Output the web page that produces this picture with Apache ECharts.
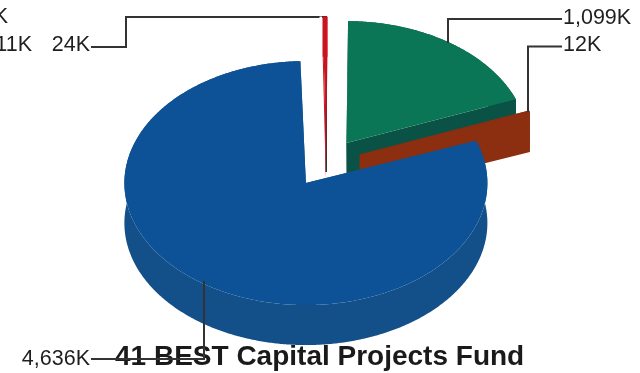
<!DOCTYPE html>
<html>
<head>
<meta charset="utf-8">
<style>html,body{margin:0;padding:0;background:#fff}#chart{width:640px;height:373px}</style>
<script src="https://cdn.jsdelivr.net/npm/echarts@6/dist/echarts.min.js"></script>
</head>
<body>
<div id="chart"></div>
<script>
// Fund balances in thousands, clockwise from twelve o'clock.
var sliceNames = ['Green', 'Brown', 'Blue', 'Small A', 'Small B', 'Red'];
var sliceValues = [1099, 12, 4636, 1, 11, 24];
var chartTitle = '41 BEST Capital Projects Fund';

// Colours: top surface and side wall, same order as the values.
var topColors = ['#0b7656', '#8c2e10', '#0d5296', '#ffffff', '#ffffff', '#cc1420'];
var wallColors = ['#0a5246', '#8c2e10', '#135089', '#ffffff', '#ffffff', '#cc1420'];
// Back slices are painted first so the large front slice overlaps them.
var paintOrder = [3, 4, 5, 0, 1, 2];

// Projection of the tilted pie.
var pie = { cx: 326, cy: 163, rx: 181.5, ry: 122, depth: 40, explode: 36, startDeg: 89.5 };

// Leader routes and their label anchors, keyed by slice index.
var leaders = [
  { slice: 0, route: [[562, 19], [448, 19], [448, 43]], at: [563, 18], align: 'left', z: 20 },
  { slice: 1, route: [[562, 46.5], [528, 46.5], [528, 112]], at: [563, 45.5], align: 'left', z: 20 },
  { slice: 2, route: [[91, 359], [204, 359], [204, 281]], at: [90, 359], align: 'right', z: 20 },
  { slice: 5, route: [[91, 47], [126, 47], [126, 17], [326, 17], [326, 172]], at: [90, 45.5], align: 'right', z: 1 },
  { slice: 4, route: [], at: [32, 45.5], align: 'right', z: 20 },
  { slice: 3, route: [], at: [8, 17.5], align: 'right', z: 20 }
];

var total = sliceValues.reduce(function (a, b) { return a + b; }, 0);

function sliceAngles(index) {
  var before = 0;
  for (var i = 0; i < index; i++) before += sliceValues[i];
  var sweep = sliceValues[index] / total * 360;
  var start = pie.startDeg - before / total * 360;
  return { start: start, end: start - sweep, mid: start - sweep / 2 };
}

function project(ox, oy, deg) {
  var a = deg * Math.PI / 180;
  return [ox + pie.rx * Math.cos(a), oy - pie.ry * Math.sin(a)];
}

function renderSlice(params, api) {
  var index = params.dataIndex;
  var ang = sliceAngles(index);
  var mid = ang.mid * Math.PI / 180;
  var ox = pie.cx + pie.explode * Math.cos(mid);
  var oy = pie.cy - pie.explode * (pie.ry / pie.rx) * Math.sin(mid);
  var arc = [];
  var steps = Math.max(2, Math.ceil((ang.start - ang.end) * 2));
  for (var s = 0; s <= steps; s++) {
    arc.push(project(ox, oy, ang.start + (ang.end - ang.start) * s / steps));
  }
  var apex = [ox, oy];
  var drop = function (p) { return [p[0], p[1] + pie.depth]; };
  var order = paintOrder.indexOf(index);
  var wallStyle = { fill: wallColors[index] };
  var children = [];
  // Side wall: the outer rim plus both cut faces.
  children.push({
    type: 'polygon', z2: order * 10,
    shape: { points: arc.concat(arc.slice().reverse().map(drop)) }, style: wallStyle
  });
  [arc[0], arc[arc.length - 1]].forEach(function (edge) {
    children.push({
      type: 'polygon', z2: order * 10 + 1,
      shape: { points: [apex, edge, drop(edge), drop(apex)] }, style: wallStyle
    });
  });
  // Top surface.
  children.push({
    type: 'polygon', z2: order * 10 + 2,
    shape: { points: [apex].concat(arc) },
    style: { fill: topColors[index] }
  });
  return { type: 'group', children: children };
}

function labelText(value) {
  return value.toLocaleString('en-US') + 'K';
}

var overlay = [];
leaders.forEach(function (l) {
  if (l.route.length) {
    overlay.push({
      type: 'polyline', z: l.z, shape: { points: l.route },
      style: { stroke: '#333', lineWidth: 2, fill: null }
    });
  }
  overlay.push({
    type: 'text', z: 21, x: l.at[0], y: l.at[1],
    style: {
      text: labelText(sliceValues[l.slice]), fill: '#1f1f1f',
      font: '21.5px "Liberation Sans", Arial, sans-serif',
      align: l.align, verticalAlign: 'middle'
    }
  });
});

var chart = echarts.init(document.getElementById('chart'), null, { renderer: 'canvas' });
chart.setOption({
  animation: false,
  backgroundColor: '#fff',
  title: {
    text: chartTitle, left: 115, top: 343, padding: 0,
    textStyle: { fontFamily: '"Liberation Sans", Arial, sans-serif', fontWeight: 'bold', fontSize: 28, color: '#1a1a1a' }
  },
  graphic: overlay,
  series: [{
    type: 'custom',
    name: 'Fund balance',
    coordinateSystem: 'none',
    renderItem: renderSlice,
    silent: true,
    data: sliceValues.map(function (v, i) { return { name: sliceNames[i], value: [v] }; })
  }]
});
</script>
</body>
</html>
